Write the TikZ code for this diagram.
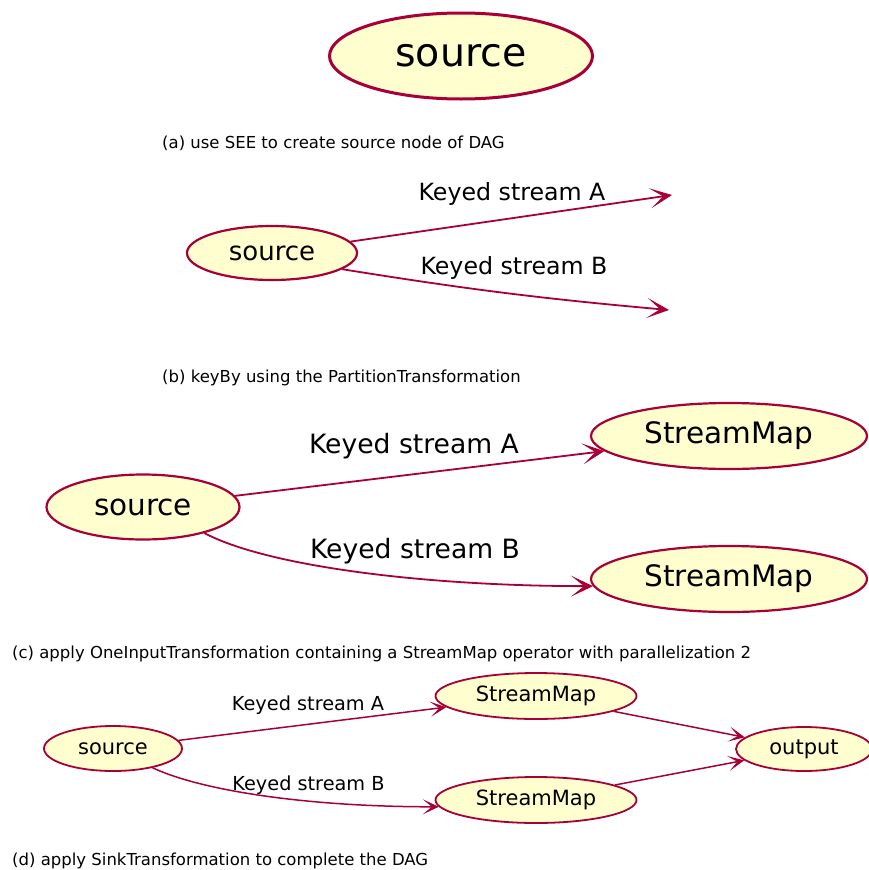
\documentclass[tikz,border=0pt]{standalone}
\usepackage{fontspec}
\setmainfont{DejaVu Sans}
\usetikzlibrary{shapes.geometric,arrows.meta}
\definecolor{umlred}{HTML}{A80036}
\definecolor{umlfill}{HTML}{FEFECE}
\begin{document}
\begin{tikzpicture}[x=1pt,y=-1pt,
  state/.style={ellipse, draw=umlred, fill=umlfill, inner sep=0pt, text=black},
  stA/.style={state, line width=3pt, font=\fontsize{39.5}{40}\selectfont},
  stB/.style={state, line width=2.2pt, font=\fontsize{26}{27}\selectfont},
  stC/.style={state, line width=2.2pt, font=\fontsize{29.5}{30}\selectfont},
  stD/.style={state, line width=1.8pt, font=\fontsize{21}{22}\selectfont},
  flowB/.style={umlred, line width=1.8pt, -{Stealth[length=22pt,width=20pt,inset=13pt]}},
  flowC/.style={umlred, line width=1.8pt, -{Stealth[length=22pt,width=21pt,inset=13pt]}},
  flowD/.style={umlred, line width=1.5pt, -{Stealth[length=16pt,width=15pt,inset=9pt]}},
  lblB/.style={anchor=base, text=black, font=\fontsize{23.7}{24}\selectfont},
  lblC/.style={anchor=base, text=black, font=\fontsize{26.6}{27}\selectfont},
  lblD/.style={anchor=base, text=black, font=\fontsize{19.3}{20}\selectfont},
  caption/.style={anchor=base west, text=black, inner sep=0pt, font=\fontsize{16.5}{17}\selectfont}]
\useasboundingbox (0,0) rectangle (869,870);

% (a) the source node alone
\node[stA, minimum width=263, minimum height=86] (srcA) at (461,56) {source};
\node[caption] (capA) at (162,148) {(a) use SEE to create source node of DAG};

% (b) two keyed streams leaving the source
\node[stB, minimum width=170, minimum height=54] (srcB) at (272,253) {source};
\coordinate (endBA) at (672,195);
\coordinate (endBB) at (669,310);
\draw[flowB] (srcB) -- (endBA);
\draw[flowB] (srcB.-13) to[bend right=2] (endBB);
\node[lblB] (lblBA) at (512,200) {Keyed stream A};
\node[lblB] (lblBB) at (514,274) {Keyed stream B};
\node[caption] (capB) at (162,382) {(b) keyBy using the PartitionTransformation};

% (c) each stream feeds a StreamMap
\node[stC, minimum width=193, minimum height=65] (srcC) at (143,507) {source};
\node[stC, minimum width=276, minimum height=66] (mapCA) at (729,436) {StreamMap};
\node[stC, minimum width=276, minimum height=66] (mapCB) at (729,579) {StreamMap};
\draw[flowC] (srcC) -- (mapCA);
\draw[flowC] (srcC.-23) .. controls +(28:70) and +(180:170) .. (mapCB.183);
\node[lblC] (lblCA) at (414,453) {Keyed stream A};
\node[lblC] (lblCB) at (415,558) {Keyed stream B};
\node[caption] (capC) at (12,658) {(c) apply OneInputTransformation containing a StreamMap operator with parallelization 2};

% (d) both StreamMaps end in the sink
\node[stD, minimum width=138, minimum height=45] (srcD) at (113,748.5) {source};
\node[stD, minimum width=201, minimum height=46] (mapDA) at (536,696) {StreamMap};
\node[stD, minimum width=201, minimum height=46] (mapDB) at (536,800) {StreamMap};
\node[stD, minimum width=136, minimum height=44] (outD) at (804,749) {output};
\draw[flowD] (srcD) -- (mapDA);
\draw[flowD] (srcD.-26) .. controls +(25:55) and +(180:130) .. (mapDB.184);
\draw[flowD] (mapDA) -- (outD);
\draw[flowD] (mapDB) -- (outD);
\node[lblD] (lblDA) at (308,710) {Keyed stream A};
\node[lblD] (lblDB) at (308.5,790) {Keyed stream B};
\node[caption] (capD) at (12,865) {(d) apply SinkTransformation to complete the DAG};
\end{tikzpicture}
\end{document}
